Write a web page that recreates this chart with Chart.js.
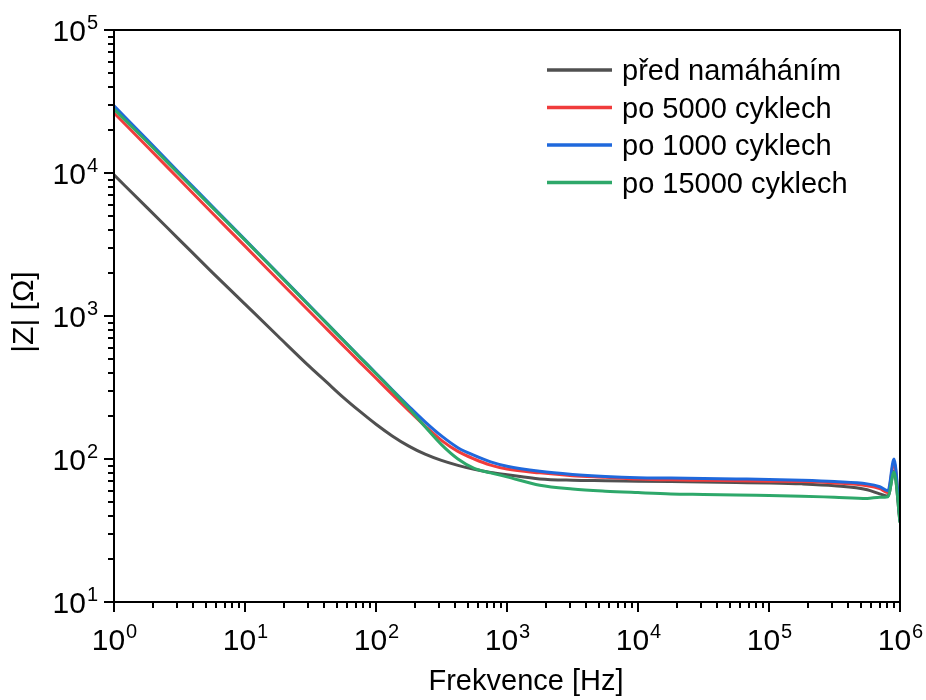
<!DOCTYPE html>
<html>
<head>
<meta charset="utf-8">
<script src="https://cdn.jsdelivr.net/npm/chart.js@4.4.0/dist/chart.umd.min.js"></script>
<style>
  body { margin: 0; background: #fff; }
  canvas { display: block; }
</style>
</head>
<body>
<canvas id="impedanceChart" width="926" height="700"></canvas>
<script>
// frequencies [Hz] and |Z| [Ohm]
const freqs = [1, 1.78, 3.16, 5.62, 10, 17.8, 31.6, 42.2, 56.2, 75, 100, 133, 178, 237, 316, 422, 562, 750,
  1e3, 1.78e3, 3.16e3, 5.62e3, 1e4, 1.78e4, 3.16e4, 5.62e4, 1e5, 1.78e5, 3.16e5, 5.62e5,
  7e5, 8.1e5, 9e5, 1e6];
const zBefore = [9700, 5750, 3410, 2020, 1210, 725, 437, 343, 270, 216, 175, 145, 123, 108, 97.7, 90.2, 84.7, 80.5,
  77.6, 72.5, 71, 70.5, 70, 69.5, 69, 68.5, 68, 67, 65, 61, 57, 55, 82, 36];
const z5000 = [26300, 15400, 9000, 5250, 3080, 1800, 1057, 809, 621, 476, 367, 283, 218, 170, 135, 113, 100, 90.6,
  85, 80, 76.5, 74.5, 72.5, 71.5, 71, 70.5, 70, 69.5, 68, 65, 62, 58, 95, 37];
const z1000 = [29500, 17200, 10000, 5860, 3420, 2000, 1164, 889, 679, 519, 398, 305, 234, 182, 145, 120, 106, 95.5,
  89, 82, 78, 75.5, 74, 73.5, 73, 72.5, 72, 71, 69.5, 67, 64, 60, 100, 37];
const z15000 = [28000, 16600, 9770, 5750, 3390, 1980, 1156, 885, 676, 516, 395, 302, 226, 168, 126, 100, 86, 80,
  75, 65.5, 61.7, 59.6, 58.2, 57, 56.5, 56, 55.5, 55, 54, 53, 54, 54.5, 81, 36];

const seriesNames = ['před namáháním', 'po 5000 cyklech', 'po 1000 cyklech', 'po 15000 cyklech'];
const seriesColors = ['#505050', '#f03c3c', '#1f68dc', '#2ea86a'];
const seriesValues = [zBefore, z5000, z1000, z15000];

const xDecades = [0, 1, 2, 3, 4, 5, 6];
const yDecades = [1, 2, 3, 4, 5];

const FONT = '"Liberation Sans", Arial, sans-serif';

function drawPow(ctx, exp, x, y, align) {
  // "10" with a raised exponent, y = baseline of "10"
  ctx.font = '30px ' + FONT;
  const wBase = ctx.measureText('10').width;
  ctx.font = '20px ' + FONT;
  const wExp = ctx.measureText(String(exp)).width;
  let left = x;
  if (align === 'center') left = x - (wBase + wExp) / 2;
  if (align === 'right') left = x - wBase - wExp;
  ctx.textAlign = 'left';
  ctx.textBaseline = 'alphabetic';
  ctx.font = '30px ' + FONT;
  ctx.fillText('10', left, y);
  ctx.font = '20px ' + FONT;
  ctx.fillText(String(exp), left + wBase + 1, y - 12);
}

const axesPlugin = {
  id: 'axesPlugin',
  afterDraw(chart) {
    const ctx = chart.ctx;
    const a = chart.chartArea;
    const xs = chart.scales.x;
    const ys = chart.scales.y;
    ctx.save();
    ctx.fillStyle = '#000';
    ctx.strokeStyle = '#000';

    // tick marks, pointing out
    ctx.lineWidth = 2;
    ctx.beginPath();
    xDecades.forEach(d => {
      const px = Math.round(xs.getPixelForValue(Math.pow(10, d)));
      ctx.moveTo(px, a.bottom); ctx.lineTo(px, a.bottom + 10);
      if (d < 6) {
        for (let m = 2; m < 10; m++) {
          const mx = Math.round(xs.getPixelForValue(m * Math.pow(10, d)));
          ctx.moveTo(mx, a.bottom); ctx.lineTo(mx, a.bottom + 6);
        }
      }
    });
    yDecades.forEach(d => {
      const py = Math.round(ys.getPixelForValue(Math.pow(10, d)));
      ctx.moveTo(a.left, py); ctx.lineTo(a.left - 10, py);
      if (d < 5) {
        for (let m = 2; m < 10; m++) {
          const my = Math.round(ys.getPixelForValue(m * Math.pow(10, d)));
          ctx.moveTo(a.left, my); ctx.lineTo(a.left - 6, my);
        }
      }
    });
    ctx.stroke();

    // frame
    ctx.strokeRect(a.left, a.top, a.right - a.left, a.bottom - a.top);

    // tick labels
    xDecades.forEach(d => {
      drawPow(ctx, d, xs.getPixelForValue(Math.pow(10, d)), a.bottom + 48, 'center');
    });
    yDecades.forEach(d => {
      drawPow(ctx, d, a.left - 17, ys.getPixelForValue(Math.pow(10, d)) + 11, 'right');
    });

    // axis titles
    ctx.font = '29px ' + FONT;
    ctx.textAlign = 'center';
    ctx.textBaseline = 'alphabetic';
    ctx.fillText('Frekvence [Hz]', 526, a.bottom + 88);
    ctx.save();
    ctx.translate(33, 312);
    ctx.rotate(-Math.PI / 2);
    ctx.font = '30px ' + FONT;
    ctx.fillText('|Z| [Ω]', 0, 0);
    ctx.restore();

    // legend
    seriesNames.forEach((name, i) => {
      const ly = 70 + i * 37.5;
      ctx.strokeStyle = seriesColors[i];
      ctx.lineWidth = 3.5;
      ctx.beginPath();
      ctx.moveTo(547, ly); ctx.lineTo(612, ly);
      ctx.stroke();
      ctx.fillStyle = '#000';
      ctx.textAlign = 'left';
      ctx.font = '29px ' + FONT;
      ctx.fillText(name, 622, ly + 10);
    });
    ctx.restore();
  }
};

const datasets = seriesValues.map((vals, i) => ({
  label: seriesNames[i],
  data: freqs.map((f, j) => ({ x: f, y: vals[j] })),
  borderColor: seriesColors[i],
  backgroundColor: seriesColors[i],
  borderWidth: 3,
  pointRadius: 0,
  cubicInterpolationMode: 'monotone',
  order: seriesValues.length - 1 - i
}));

new Chart(document.getElementById('impedanceChart').getContext('2d'), {
  type: 'line',
  data: { datasets: datasets },
  options: {
    responsive: false,
    animation: false,
    devicePixelRatio: 1,
    layout: { padding: { left: 114, right: 26, top: 30, bottom: 98 } },
    plugins: {
      legend: { display: false },
      tooltip: { enabled: false }
    },
    scales: {
      x: {
        type: 'logarithmic',
        min: 1,
        max: 1e6,
        grid: { display: false, drawTicks: false },
        border: { display: false },
        ticks: { display: false }
      },
      y: {
        type: 'logarithmic',
        min: 10,
        max: 1e5,
        grid: { display: false, drawTicks: false },
        border: { display: false },
        ticks: { display: false }
      }
    }
  },
  plugins: [axesPlugin]
});
</script>
</body>
</html>
